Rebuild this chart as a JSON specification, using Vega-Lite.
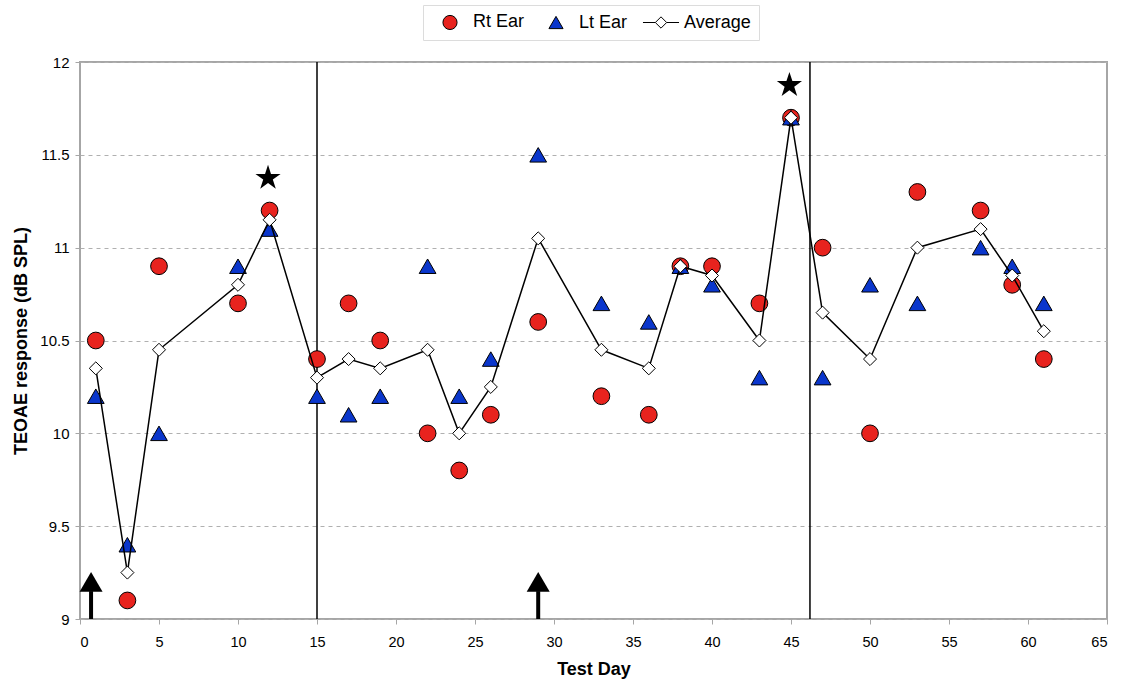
{
  "$schema": "https://vega.github.io/schema/vega-lite/v6.json",
  "width": 1027,
  "height": 557,
  "autosize": {"type": "none"},
  "padding": {"left": 80, "top": 62, "right": 22, "bottom": 60},
  "background": "white",
  "config": {
    "font": "Liberation Sans",
    "view": {"stroke": "#a6a6a6", "strokeWidth": 2},
    "axis": {"labelFont": "Liberation Sans", "titleFont": "Liberation Sans", "labelColor": "black", "titleColor": "black"}
  },
  "datasets": {
    "pts": [
      {"day": 1, "series": "Rt Ear", "value": 10.5},
      {"day": 3, "series": "Rt Ear", "value": 9.1},
      {"day": 5, "series": "Rt Ear", "value": 10.9},
      {"day": 10, "series": "Rt Ear", "value": 10.7},
      {"day": 12, "series": "Rt Ear", "value": 11.2},
      {"day": 15, "series": "Rt Ear", "value": 10.4},
      {"day": 17, "series": "Rt Ear", "value": 10.7},
      {"day": 19, "series": "Rt Ear", "value": 10.5},
      {"day": 22, "series": "Rt Ear", "value": 10.0},
      {"day": 24, "series": "Rt Ear", "value": 9.8},
      {"day": 26, "series": "Rt Ear", "value": 10.1},
      {"day": 29, "series": "Rt Ear", "value": 10.6},
      {"day": 33, "series": "Rt Ear", "value": 10.2},
      {"day": 36, "series": "Rt Ear", "value": 10.1},
      {"day": 38, "series": "Rt Ear", "value": 10.9},
      {"day": 40, "series": "Rt Ear", "value": 10.9},
      {"day": 43, "series": "Rt Ear", "value": 10.7},
      {"day": 45, "series": "Rt Ear", "value": 11.7},
      {"day": 47, "series": "Rt Ear", "value": 11.0},
      {"day": 50, "series": "Rt Ear", "value": 10.0},
      {"day": 53, "series": "Rt Ear", "value": 11.3},
      {"day": 57, "series": "Rt Ear", "value": 11.2},
      {"day": 59, "series": "Rt Ear", "value": 10.8},
      {"day": 61, "series": "Rt Ear", "value": 10.4},
      {"day": 1, "series": "Lt Ear", "value": 10.2},
      {"day": 3, "series": "Lt Ear", "value": 9.4},
      {"day": 5, "series": "Lt Ear", "value": 10.0},
      {"day": 10, "series": "Lt Ear", "value": 10.9},
      {"day": 12, "series": "Lt Ear", "value": 11.1},
      {"day": 15, "series": "Lt Ear", "value": 10.2},
      {"day": 17, "series": "Lt Ear", "value": 10.1},
      {"day": 19, "series": "Lt Ear", "value": 10.2},
      {"day": 22, "series": "Lt Ear", "value": 10.9},
      {"day": 24, "series": "Lt Ear", "value": 10.2},
      {"day": 26, "series": "Lt Ear", "value": 10.4},
      {"day": 29, "series": "Lt Ear", "value": 11.5},
      {"day": 33, "series": "Lt Ear", "value": 10.7},
      {"day": 36, "series": "Lt Ear", "value": 10.6},
      {"day": 38, "series": "Lt Ear", "value": 10.9},
      {"day": 40, "series": "Lt Ear", "value": 10.8},
      {"day": 43, "series": "Lt Ear", "value": 10.3},
      {"day": 45, "series": "Lt Ear", "value": 11.7},
      {"day": 47, "series": "Lt Ear", "value": 10.3},
      {"day": 50, "series": "Lt Ear", "value": 10.8},
      {"day": 53, "series": "Lt Ear", "value": 10.7},
      {"day": 57, "series": "Lt Ear", "value": 11.0},
      {"day": 59, "series": "Lt Ear", "value": 10.9},
      {"day": 61, "series": "Lt Ear", "value": 10.7},
      {"day": 1, "series": "Average", "value": 10.35},
      {"day": 3, "series": "Average", "value": 9.25},
      {"day": 5, "series": "Average", "value": 10.45},
      {"day": 10, "series": "Average", "value": 10.8},
      {"day": 12, "series": "Average", "value": 11.15},
      {"day": 15, "series": "Average", "value": 10.3},
      {"day": 17, "series": "Average", "value": 10.4},
      {"day": 19, "series": "Average", "value": 10.35},
      {"day": 22, "series": "Average", "value": 10.45},
      {"day": 24, "series": "Average", "value": 10.0},
      {"day": 26, "series": "Average", "value": 10.25},
      {"day": 29, "series": "Average", "value": 11.05},
      {"day": 33, "series": "Average", "value": 10.45},
      {"day": 36, "series": "Average", "value": 10.35},
      {"day": 38, "series": "Average", "value": 10.9},
      {"day": 40, "series": "Average", "value": 10.85},
      {"day": 43, "series": "Average", "value": 10.5},
      {"day": 45, "series": "Average", "value": 11.7},
      {"day": 47, "series": "Average", "value": 10.65},
      {"day": 50, "series": "Average", "value": 10.4},
      {"day": 53, "series": "Average", "value": 11.0},
      {"day": 57, "series": "Average", "value": 11.1},
      {"day": 59, "series": "Average", "value": 10.85},
      {"day": 61, "series": "Average", "value": 10.55}
    ],
    "vlines": [
      {"day": 15, "y0": 9, "y1": 12},
      {"day": 46.2, "y0": 9, "y1": 12}
    ],
    "stars": [
      {"day": 11.9, "value": 11.375},
      {"day": 44.9, "value": 11.875}
    ],
    "arrows": [
      {"day": 0.7, "base": 9, "top": 9.15, "head": 9.2},
      {"day": 29, "base": 9, "top": 9.15, "head": 9.2}
    ]
  },
  "layer": [
    {
      "data": {"name": "vlines"},
      "mark": {"type": "rule", "color": "black", "strokeWidth": 1.5},
      "encoding": {
        "x": {"field": "day", "type": "quantitative", "scale": {"domain": [0, 65], "nice": false},
          "axis": {"values": [0,5,10,15,20,25,30,35,40,45,50,55,60,65], "format": "d", "title": "Test Day", "grid": false, "domain": false,
            "tickColor": "#a6a6a6", "tickSize": 5, "labelFontSize": 14.5, "labelPadding": 11,
            "titleFontSize": 18, "titleFontWeight": "bold", "titlePadding": 12}},
        "y": {"field": "y0", "type": "quantitative", "scale": {"domain": [9, 12], "nice": false},
          "axis": {"values": [9,9.5,10,10.5,11,11.5,12], "format": "~g", "title": "TEOAE response (dB SPL)", "grid": true,
            "gridDash": [4, 4], "gridColor": "#b0b0b0", "domain": false, "tickColor": "#a6a6a6", "tickSize": 5,
            "labelFontSize": 15, "labelPadding": 6, "titleFontSize": 18, "titleFontWeight": "bold", "titlePadding": 9}},
        "y2": {"field": "y1"}
      }
    },
    {
      "data": {"name": "pts"},
      "transform": [{"filter": "datum.series !== 'Average'"}],
      "mark": {"type": "point", "filled": true, "strokeWidth": 1, "opacity": 1},
      "encoding": {
        "x": {"field": "day", "type": "quantitative"},
        "y": {"field": "value", "type": "quantitative"},
        "shape": {"field": "series", "type": "nominal",
          "scale": {"domain": ["Rt Ear", "Lt Ear", "Average"], "range": ["circle", "triangle-up", "M-2.55,0L-0.8,0M-0.8,0L0,-0.8L0.8,0L0,0.8ZM0.8,0L2.55,0"]},
          "legend": {"orient": "none", "legendX": 343, "legendY": -57, "direction": "horizontal", "title": null,
            "strokeColor": "#dcdcdc", "padding": 8, "labelFont": "Liberation Sans", "labelFontSize": 18,
            "symbolSize": 200, "symbolStrokeWidth": 1, "symbolOpacity": 1,
            "symbolOffset": 10, "labelOffset": 14, "columnPadding": 12}},
        "fill": {"field": "series", "type": "nominal",
          "scale": {"domain": ["Rt Ear", "Lt Ear", "Average"], "range": ["#e8231e", "#0a36cc", "#ffffff"]}},
        "stroke": {"field": "series", "type": "nominal",
          "scale": {"domain": ["Rt Ear", "Lt Ear", "Average"], "range": ["#000000", "#000000", "#000000"]}},
        "size": {"value": 280}
      }
    },
    {
      "data": {"name": "pts"},
      "transform": [{"filter": "datum.series === 'Average'"}],
      "mark": {"type": "line", "color": "black", "strokeWidth": 1.5},
      "encoding": {
        "x": {"field": "day", "type": "quantitative"},
        "y": {"field": "value", "type": "quantitative"}
      }
    },
    {
      "data": {"name": "pts"},
      "transform": [{"filter": "datum.series === 'Average'"}],
      "mark": {"type": "point", "filled": true, "shape": "diamond", "strokeWidth": 1, "opacity": 1},
      "encoding": {
        "x": {"field": "day", "type": "quantitative"},
        "y": {"field": "value", "type": "quantitative"},
        "fill": {"field": "series", "type": "nominal"},
        "stroke": {"field": "series", "type": "nominal"},
        "size": {"value": 170}
      }
    },
    {
      "data": {"name": "stars"},
      "mark": {"type": "point", "filled": true, "color": "black", "opacity": 1,
        "shape": "M0,-1L0.225,-0.309L0.951,-0.309L0.363,0.118L0.588,0.809L0,0.382L-0.588,0.809L-0.363,0.118L-0.951,-0.309L-0.225,-0.309Z", "size": 700},
      "encoding": {
        "x": {"field": "day", "type": "quantitative"},
        "y": {"field": "value", "type": "quantitative"}
      }
    },
    {
      "data": {"name": "arrows"},
      "mark": {"type": "rule", "color": "black", "strokeWidth": 4},
      "encoding": {
        "x": {"field": "day", "type": "quantitative"},
        "y": {"field": "base", "type": "quantitative"},
        "y2": {"field": "top"}
      }
    },
    {
      "data": {"name": "arrows"},
      "mark": {"type": "point", "filled": true, "color": "black", "opacity": 1, "shape": "triangle-up", "size": 529},
      "encoding": {
        "x": {"field": "day", "type": "quantitative"},
        "y": {"field": "head", "type": "quantitative"}
      }
    }
  ]
}
